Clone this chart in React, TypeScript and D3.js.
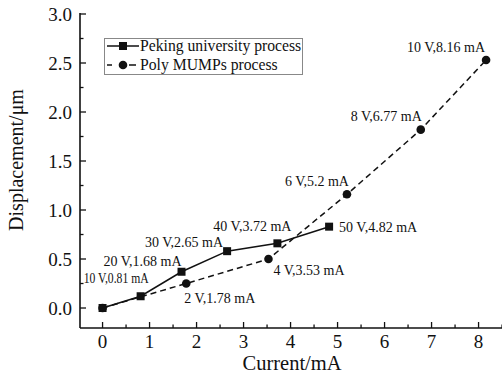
import React from "react";
import * as d3 from "d3";

const pekingCurrent = [0, 0.81, 1.68, 2.65, 3.72, 4.82];
const pekingDisp = [0, 0.12, 0.37, 0.58, 0.66, 0.83];
const pekingLabels = ["", "10 V,0.81 mA", "20 V,1.68 mA", "30 V,2.65 mA", "40 V,3.72 mA", "50 V,4.82 mA"];

const polyCurrent = [0, 1.78, 3.53, 5.2, 6.77, 8.16];
const polyDisp = [0, 0.25, 0.5, 1.16, 1.82, 2.53];
const polyLabels = ["", "2 V,1.78 mA", "4 V,3.53 mA", "6 V,5.2 mA", "8 V,6.77 mA", "10 V,8.16 mA"];

const xTicks = [0, 1, 2, 3, 4, 5, 6, 7, 8];
const yTicks = [0, 0.5, 1, 1.5, 2, 2.5, 3];

const seriesNames = ["Peking university process", "Poly MUMPs process"];

// label placement offsets (px) relative to each point: [dx, dy, anchor]
const pekingLabelOffsets: [number, number, string][] = [
  [0, 0, "start"],
  [8, -13, "end"],
  [0, -6, "end"],
  [-4, -4, "end"],
  [14, -12, "end"],
  [10, 5, "start"],
];
const polyLabelOffsets: [number, number, string][] = [
  [0, 0, "start"],
  [-2, 19, "start"],
  [5, 16, "start"],
  [2, -8, "end"],
  [1, -9, "end"],
  [-1, -8, "end"],
];

const FONT = "'Liberation Serif', 'Times New Roman', serif";
const INK = "#111";

export default function App() {
  const W = 502;
  const H = 379;
  const left = 80;
  const bottom = 328;
  const top = 14;
  const x = d3.scaleLinear().domain([-0.48, 8.5]).range([left, left + 8.98 * 47]);
  const y = d3.scaleLinear().domain([-0.204, 3]).range([bottom, top]);

  const line = d3
    .line<[number, number]>()
    .x((d) => x(d[0]))
    .y((d) => y(d[1]));

  const pk: [number, number][] = pekingCurrent.map((c, i) => [c, pekingDisp[i]]);
  const po: [number, number][] = polyCurrent.map((c, i) => [c, polyDisp[i]]);

  const xMinor = d3.range(-0.5, 8.51, 0.5).filter((v) => v > -0.4 && !xTicks.includes(v));
  const yMinor = d3.range(0.25, 3, 0.5);

  return (
    <svg width={W} height={H} style={{ position: "absolute", left: 0, top: 0, background: "#fff" }}>
      <rect x={0} y={0} width={W} height={H} fill="#fff" />
      {/* axes */}
      <line x1={left} x2={left} y1={top - 1} y2={bottom} stroke={INK} strokeWidth={1.6} />
      <line x1={left} x2={W} y1={bottom} y2={bottom} stroke={INK} strokeWidth={1.6} />
      {xTicks.map((t) => (
        <g key={"xt" + t}>
          <line x1={x(t)} x2={x(t)} y1={bottom} y2={bottom - 6} stroke={INK} strokeWidth={1.3} />
          <text x={x(t)} y={348} textAnchor="middle" fontFamily={FONT} fontSize={19} fill={INK}>
            {t}
          </text>
        </g>
      ))}
      {xMinor.map((t) => (
        <line key={"xm" + t} x1={x(t)} x2={x(t)} y1={bottom} y2={bottom - 3.5} stroke={INK} strokeWidth={1.3} />
      ))}
      {yTicks.map((t) => (
        <g key={"yt" + t}>
          <line x1={left} x2={left + 6} y1={y(t)} y2={y(t)} stroke={INK} strokeWidth={1.3} />
          <text x={72} y={y(t) + 6.5} textAnchor="end" fontFamily={FONT} fontSize={19} fill={INK}>
            {d3.format(".1f")(t)}
          </text>
        </g>
      ))}
      {yMinor.map((t) => (
        <line key={"ym" + t} x1={left} x2={left + 3.5} y1={y(t)} y2={y(t)} stroke={INK} strokeWidth={1.3} />
      ))}
      <text x={292} y={370} textAnchor="middle" fontFamily={FONT} fontSize={20.5} fill={INK}>
        Current/mA
      </text>
      <text
        transform={`translate(23,${160}) rotate(-90)`}
        textAnchor="middle"
        fontFamily={FONT}
        fontSize={20}
        fill={INK}
      >
        Displacement/μm
      </text>

      {/* series */}
      <path d={line(po) || ""} fill="none" stroke={INK} strokeWidth={1.5} strokeDasharray="6,4" />
      <path d={line(pk) || ""} fill="none" stroke={INK} strokeWidth={1.5} />
      {po.map((d, i) => (
        <circle key={"pc" + i} cx={x(d[0])} cy={y(d[1])} r={4.3} fill={INK} />
      ))}
      {pk.map((d, i) => (
        <rect key={"pr" + i} x={x(d[0]) - 4} y={y(d[1]) - 4} width={8} height={8} fill={INK} />
      ))}

      {/* annotations */}
      {pk.map((d, i) =>
        pekingLabels[i] ? (
          <text
            key={"pl" + i}
            x={x(d[0]) + pekingLabelOffsets[i][0]}
            y={y(d[1]) + pekingLabelOffsets[i][1]}
            textAnchor={pekingLabelOffsets[i][2]}
            fontFamily={FONT}
            fontSize={14}
            fill={INK}
            {...(i === 1 ? { textLength: 65, lengthAdjust: "spacingAndGlyphs" } : {})}
          >
            {pekingLabels[i]}
          </text>
        ) : null
      )}
      {po.map((d, i) =>
        polyLabels[i] ? (
          <text
            key={"ol" + i}
            x={x(d[0]) + polyLabelOffsets[i][0]}
            y={y(d[1]) + polyLabelOffsets[i][1]}
            textAnchor={polyLabelOffsets[i][2]}
            fontFamily={FONT}
            fontSize={14}
            fill={INK}
          >
            {polyLabels[i]}
          </text>
        ) : null
      )}

      {/* legend */}
      <rect x={104.5} y={38.5} width={198} height={36} fill="#fff" stroke="#888" strokeWidth={1} />
      <line x1={107} x2={139} y1={46} y2={46} stroke={INK} strokeWidth={1.5} />
      <rect x={119} y={42} width={8} height={8} fill={INK} />
      <text x={140} y={51} fontFamily={FONT} fontSize={15.7} fill={INK}>
        {seriesNames[0]}
      </text>
      <line x1={107} x2={112} y1={65} y2={65} stroke={INK} strokeWidth={1.5} />
      <line x1={129} x2={136} y1={65} y2={65} stroke={INK} strokeWidth={1.5} />
      <circle cx={123} cy={65} r={4.3} fill={INK} />
      <text x={140} y={70} fontFamily={FONT} fontSize={15.7} fill={INK}>
        {seriesNames[1]}
      </text>
    </svg>
  );
}
